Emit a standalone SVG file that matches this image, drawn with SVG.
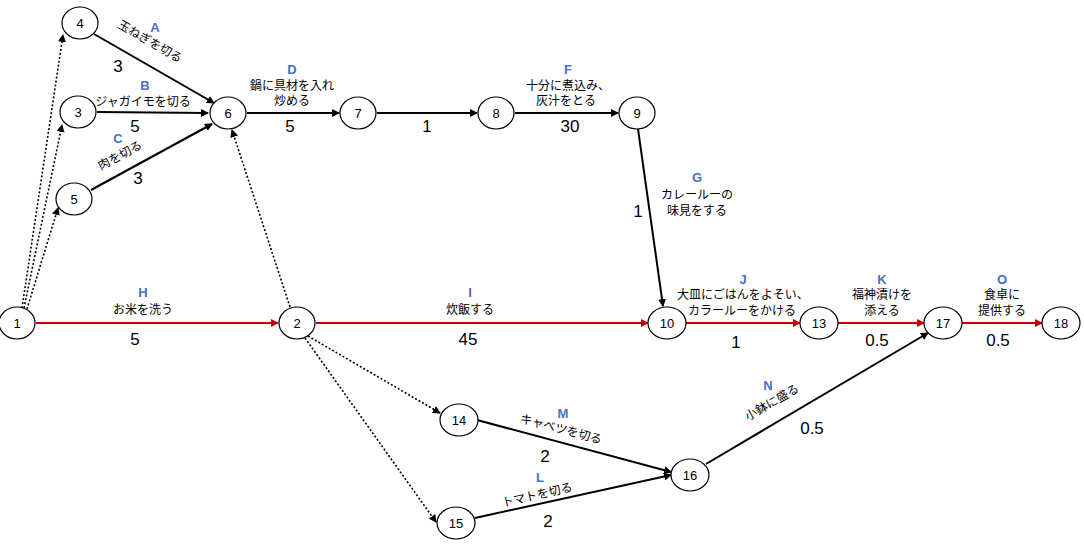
<svg xmlns="http://www.w3.org/2000/svg" width="1084" height="548" viewBox="0 0 1084 548">
<defs>
<style>
.n ellipse{fill:#fff;stroke:#000;stroke-width:1.2}
.n text{font-family:"Liberation Sans",Arial,sans-serif;font-size:13px;text-anchor:middle;dominant-baseline:central}
.s{stroke:#000;stroke-width:2;fill:none}
.r{stroke:#c00000;stroke-width:2;fill:none}
.d{stroke:#000;stroke-width:1.6;stroke-dasharray:2 2;fill:none}
.t{font-family:"Liberation Sans","Noto Sans CJK JP",sans-serif;font-size:12px;text-anchor:middle}
.l{font-family:"Liberation Sans",sans-serif;font-size:13px;font-weight:bold;fill:#4472c4;text-anchor:middle}
.v{font-family:"Liberation Sans",sans-serif;font-size:17px;text-anchor:middle}
</style>
<marker id="a" markerWidth="8" markerHeight="8" refX="7" refY="4" orient="auto" markerUnits="userSpaceOnUse"><path d="M0,0L8,4L0,8z" fill="#000"/></marker>
<marker id="ar" markerWidth="8" markerHeight="8" refX="7" refY="4" orient="auto" markerUnits="userSpaceOnUse"><path d="M0,0L8,4L0,8z" fill="#c00000"/></marker>
</defs>
<rect width="1084" height="548" fill="#fff"/>
<g id="connectors">
<path class="d" d="M22,308L63,35" marker-end="url(#a)"/>
<path class="d" d="M24,308L62,125" marker-end="url(#a)"/>
<path class="d" d="M27,309L58,208" marker-end="url(#a)"/>
<path class="s" d="M94,34L214,103" marker-end="url(#a)"/>
<path class="s" d="M97,112L208,113" marker-end="url(#a)"/>
<path class="s" d="M91,190L212,124" marker-end="url(#a)"/>
<path class="d" d="M290,307L232,130" marker-end="url(#a)"/>
<path class="s" d="M247,113L339,113" marker-end="url(#a)"/>
<path class="s" d="M377,113L477,113" marker-end="url(#a)"/>
<path class="s" d="M515,113L618,113" marker-end="url(#a)"/>
<path class="s" d="M638,129L663,306" marker-end="url(#a)"/>
<path class="r" d="M36,323L278,323" marker-end="url(#ar)"/>
<path class="r" d="M316,323L648,323" marker-end="url(#ar)"/>
<path class="r" d="M686,323L800,323" marker-end="url(#ar)"/>
<path class="r" d="M838,323L924,323" marker-end="url(#ar)"/>
<path class="r" d="M962,323L1042,323" marker-end="url(#ar)"/>
<path class="d" d="M308,336L440,413" marker-end="url(#a)"/>
<path class="d" d="M305,338L436,522" marker-end="url(#a)"/>
<path class="s" d="M477,420L671,472" marker-end="url(#a)"/>
<path class="s" d="M475,518L671,475" marker-end="url(#a)"/>
<path class="s" d="M706,464L928,333" marker-end="url(#a)"/>
</g>
<g id="labels">
<text class="l" x="155" y="32">A</text>
<text class="t" transform="translate(148,45) rotate(30)">玉ねぎを切る</text>
<text class="v" x="118" y="72">3</text>
<text class="l" x="145" y="90">B</text>
<text class="t" x="143" y="106">ジャガイモを切る</text>
<text class="v" x="135" y="132">5</text>
<text class="l" x="118" y="143">C</text>
<text class="t" transform="translate(122,159) rotate(-28)">肉を切る</text>
<text class="v" x="138" y="184">3</text>
<text class="l" x="292" y="74">D</text>
<text class="t" x="292" y="90">鍋に具材を入れ</text>
<text class="t" x="292" y="105">炒める</text>
<text class="v" x="290" y="132">5</text>
<text class="v" x="427" y="132">1</text>
<text class="l" x="568" y="74">F</text>
<text class="t" x="568" y="90">十分に煮込み、</text>
<text class="t" x="566" y="105">灰汁をとる</text>
<text class="v" x="570" y="132">30</text>
<text class="l" x="697" y="182">G</text>
<text class="t" x="697" y="199">カレールーの</text>
<text class="t" x="697" y="215">味見をする</text>
<text class="v" x="638" y="217">1</text>
<text class="l" x="143" y="297">H</text>
<text class="t" x="143" y="314">お米を洗う</text>
<text class="v" x="135" y="345">5</text>
<text class="l" x="470" y="297">I</text>
<text class="t" x="470" y="314">炊飯する</text>
<text class="v" x="468" y="345">45</text>
<text class="l" x="743" y="284">J</text>
<text class="t" x="743" y="299">大皿にごはんをよそい、</text>
<text class="t" x="742" y="315">カラールーをかける</text>
<text class="v" x="736" y="348">1</text>
<text class="l" x="882" y="284">K</text>
<text class="t" x="882" y="299">福神漬けを</text>
<text class="t" x="882" y="315">添える</text>
<text class="v" x="877" y="346">0.5</text>
<text class="l" x="1002" y="284">O</text>
<text class="t" x="1002" y="299">食卓に</text>
<text class="t" x="1002" y="315">提供する</text>
<text class="v" x="998" y="346">0.5</text>
<text class="l" x="563" y="418">M</text>
<text class="t" transform="translate(560,433) rotate(15)">キャベツを切る</text>
<text class="v" x="545" y="462">2</text>
<text class="l" x="540" y="482">L</text>
<text class="t" transform="translate(538,499) rotate(-13)">トマトを切る</text>
<text class="v" x="548" y="527">2</text>
<text class="l" x="768" y="390">N</text>
<text class="t" transform="translate(774,406) rotate(-30)">小鉢に盛る</text>
<text class="v" x="812" y="434">0.5</text>
</g>
<g id="n1" class="n"><ellipse cx="17" cy="323" rx="18" ry="16"/><text x="17" y="323">1</text></g>
<g id="n4" class="n"><ellipse cx="80" cy="23" rx="18" ry="16"/><text x="80" y="23">4</text></g>
<g id="n3" class="n"><ellipse cx="78" cy="112" rx="18" ry="16"/><text x="78" y="112">3</text></g>
<g id="n5" class="n"><ellipse cx="74" cy="199" rx="18" ry="16"/><text x="74" y="199">5</text></g>
<g id="n6" class="n"><ellipse cx="228" cy="113" rx="18" ry="16"/><text x="228" y="113">6</text></g>
<g id="n7" class="n"><ellipse cx="358" cy="113" rx="18" ry="16"/><text x="358" y="113">7</text></g>
<g id="n8" class="n"><ellipse cx="496" cy="113" rx="18" ry="16"/><text x="496" y="113">8</text></g>
<g id="n9" class="n"><ellipse cx="637" cy="113" rx="18" ry="16"/><text x="637" y="113">9</text></g>
<g id="n2" class="n"><ellipse cx="297" cy="323" rx="18" ry="16"/><text x="297" y="323">2</text></g>
<g id="n10" class="n"><ellipse cx="667" cy="323" rx="19" ry="16"/><text x="667" y="323">10</text></g>
<g id="n13" class="n"><ellipse cx="819" cy="323" rx="19" ry="16"/><text x="819" y="323">13</text></g>
<g id="n17" class="n"><ellipse cx="943" cy="323" rx="19" ry="16"/><text x="943" y="323">17</text></g>
<g id="n18" class="n"><ellipse cx="1061" cy="323" rx="19" ry="16"/><text x="1061" y="323">18</text></g>
<g id="n14" class="n"><ellipse cx="459" cy="420" rx="19" ry="16"/><text x="459" y="420">14</text></g>
<g id="n15" class="n"><ellipse cx="456" cy="523" rx="19" ry="16"/><text x="456" y="523">15</text></g>
<g id="n16" class="n"><ellipse cx="690" cy="475" rx="19" ry="16"/><text x="690" y="475">16</text></g>
</svg>
